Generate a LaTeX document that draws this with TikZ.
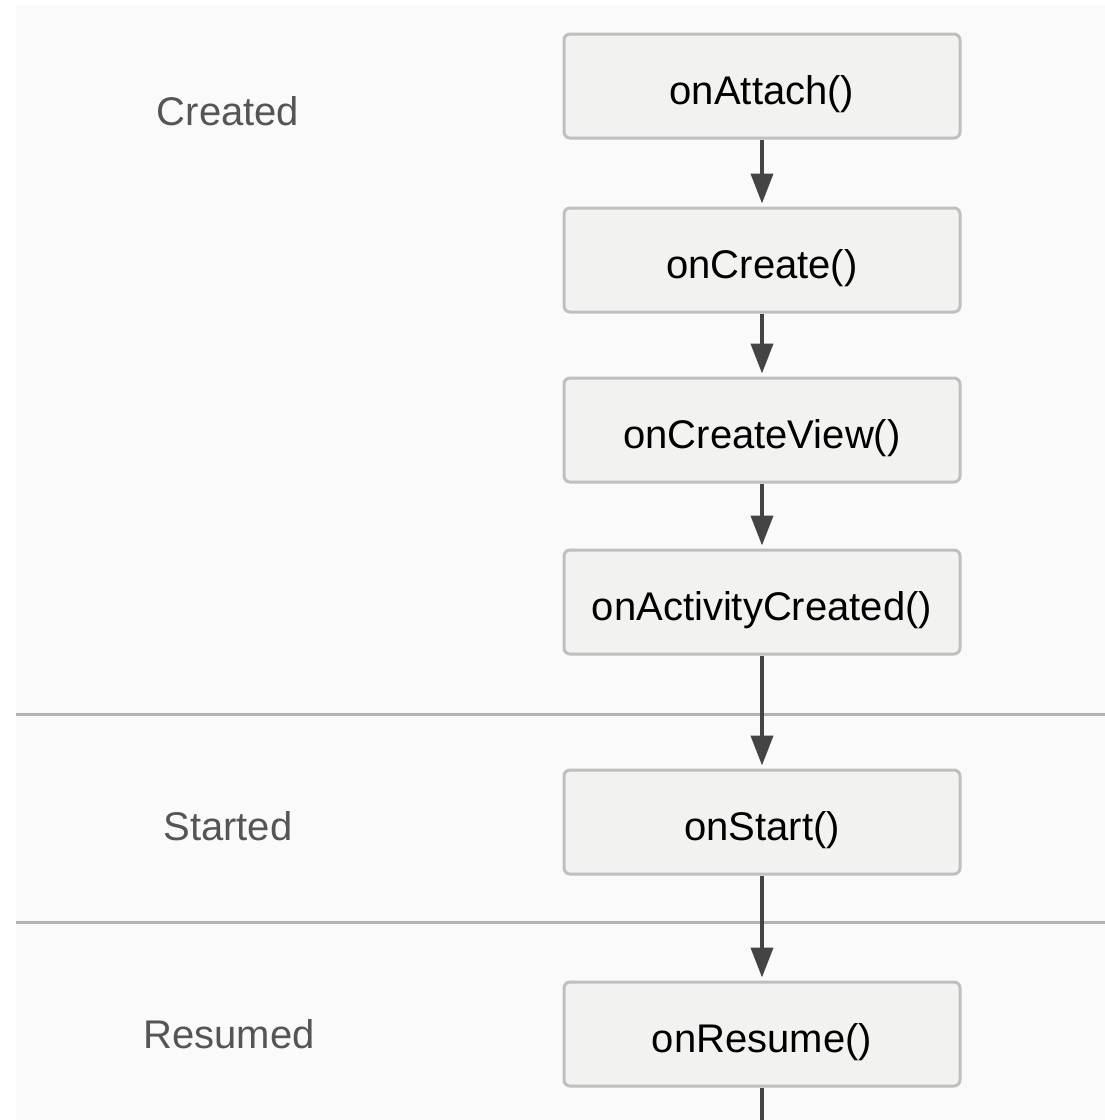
\documentclass[tikz,border=0pt]{standalone}
\usepackage{fontspec}
\setmainfont{Liberation Sans}
\usetikzlibrary{arrows.meta}
\definecolor{panelbg}{HTML}{FAFAFA}
\definecolor{boxfill}{HTML}{F2F2F0}
\definecolor{boxline}{HTML}{BFBFBF}
\definecolor{sepline}{HTML}{B3B3B3}
\definecolor{flowline}{HTML}{444444}
\definecolor{statetext}{HTML}{555555}
\tikzset{
  callback/.style={draw=boxline, fill=boxfill, line width=3pt, rounded corners=6pt,
    minimum width=396pt, minimum height=104pt, inner sep=0pt,
    text height=37pt, text depth=0pt,
    font=\fontsize{40}{48}\selectfont, text=black},
  statelabel/.style={inner sep=0pt, font=\fontsize{40}{48}\selectfont, text=statetext},
  flow/.style={draw=flowline, line width=4pt,
    -{Triangle[width=22pt,length=30pt]}, shorten >=3pt},
  separator/.style={draw=sepline, line width=3pt}
}
\begin{document}
\begin{tikzpicture}[x=1pt, y=-1pt]
  % canvas and panel
  \useasboundingbox (0,0) rectangle (1105,1120);
  \fill[white] (0,0) rectangle (1105,1120);
  \fill[panelbg] (16,5) rectangle (1105,1120);

  % state separators
  \coordinate (sepAl) at (16,714);
  \coordinate (sepAr) at (1105,714);
  \coordinate (sepBl) at (16,922);
  \coordinate (sepBr) at (1105,922);
  \draw[separator] (sepAl) -- (sepAr);
  \draw[separator] (sepBl) -- (sepBr);

  % state labels
  \node[statelabel] (created) at (228,111) {Created};
  \node[statelabel] (started) at (228,826) {Started};
  \node[statelabel] (resumed) at (229,1034) {Resumed};

  % lifecycle callbacks
  \node[callback] (attach)   at (762,86)   {onAttach()};
  \node[callback] (create)   at (762,260)  {onCreate()};
  \node[callback] (view)     at (762,430)  {onCreateView()};
  \node[callback] (activity) at (762,602)  {onActivityCreated()};
  \node[callback] (start)    at (762,822)  {onStart()};
  \node[callback] (resume)   at (762,1034) {onResume()};

  % transitions
  \draw[flow] (attach) -- (create);
  \draw[flow] (create) -- (view);
  \draw[flow] (view) -- (activity);
  \draw[flow] (activity) -- (start);
  \draw[flow] (start) -- (resume);
  \coordinate (exit) at (762,1120);
  \draw[draw=flowline, line width=4pt] (resume) -- (exit);
\end{tikzpicture}
\end{document}
